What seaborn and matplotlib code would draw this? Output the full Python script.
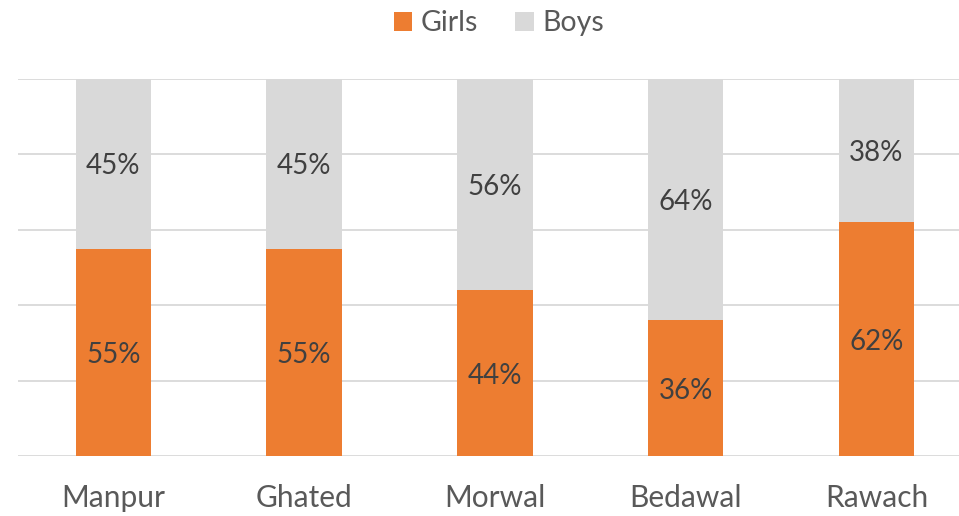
import matplotlib
matplotlib.use("Agg")
import matplotlib.pyplot as plt
import seaborn as sns
import pandas as pd

villages = ["Manpur", "Ghated", "Morwal", "Bedawal", "Rawach"]
girls = [55, 55, 44, 36, 62]
boys = [45, 45, 56, 64, 38]

sns.set_style("white")
plt.rcParams["font.family"] = ["Lato", "DejaVu Sans"]

df = pd.DataFrame({"village": villages, "Girls": girls, "Boys": boys})
df["total"] = df["Girls"] + df["Boys"]

fig = plt.figure(figsize=(9.59, 5.16), dpi=100)
ax = fig.add_axes([18 / 959, 60 / 516, 941 / 959, 377 / 516])

# boys drawn as the full bar, girls on top of it from the bottom
sns.barplot(data=df, x="village", y="total", color="#D9D9D9", width=0.395,
            saturation=1, ax=ax, label="Boys", zorder=2, linewidth=0)
sns.barplot(data=df, x="village", y="Girls", color="#ED7D31", width=0.395,
            saturation=1, ax=ax, label="Girls", zorder=3, linewidth=0)

handles, labels = ax.get_legend_handles_labels()
if ax.get_legend() is not None:
    ax.get_legend().remove()

ax.set_ylim(0, 100)
ax.set_xlim(-0.5, 4.433)
ax.set_yticks([0, 20, 40, 60, 80, 100])
ax.yaxis.grid(True, color="#D9D9D9", linewidth=1.3, zorder=0)
ax.set_axisbelow(True)
ax.set_yticklabels([])
ax.tick_params(axis="y", length=0)
ax.tick_params(axis="x", length=0, labelsize=21.5, labelcolor="#595959", pad=20)
ax.set_xlabel("")
ax.set_ylabel("")
for s in ax.spines.values():
    s.set_visible(False)

for i in range(len(villages)):
    ax.text(i, girls[i] / 2, f"{girls[i]}%", ha="center", va="center_baseline",
            fontsize=20, color="#404040", zorder=5)
    ax.text(i, girls[i] + boys[i] / 2, f"{boys[i]}%", ha="center", va="center_baseline",
            fontsize=20, color="#404040", zorder=5)

order = [labels.index("Girls"), labels.index("Boys")]
leg = fig.legend([handles[k] for k in order], [labels[k] for k in order],
                 loc="center", bbox_to_anchor=(0.52, 0.955), ncol=2, frameon=False,
                 fontsize=20.5, handlelength=0.65, handleheight=0.65, handletextpad=0.3,
                 columnspacing=1.3)
for t in leg.get_texts():
    t.set_color("#595959")

fig.savefig("out.png", dpi=100)
